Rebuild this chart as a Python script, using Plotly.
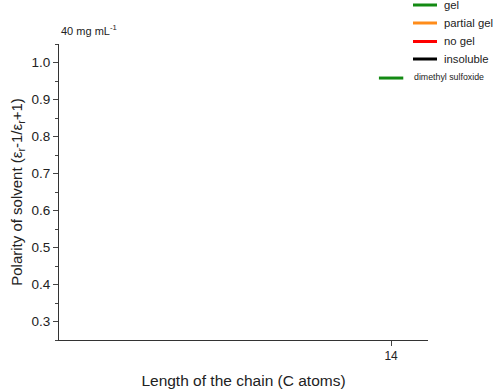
import plotly.graph_objects as go

legend_names = ["gel", "partial gel", "no gel", "insoluble"]
legend_colors = ["#138a13", "#ff8c1a", "#ff0000", "#000000"]

solvents = ["dimethyl sulfoxide"]
chain_length = [14]
polarity = [0.958]
solvent_state = ["gel"]
half_width = 0.33

FONT = "Arial, Liberation Sans, sans-serif"

# plot area in pixels (for legend placement)
L, R, T, B = 59, 428, 44, 340
def px_x(p):
    return (p - L) / (R - L)
def px_y(p):
    return (B - p) / (B - T)

fig = go.Figure()

color_map = dict(zip(legend_names, legend_colors))
for s, x, y, st in zip(solvents, chain_length, polarity, solvent_state):
    fig.add_trace(go.Scatter(x=[x - half_width, x + half_width], y=[y, y], mode="lines",
                             line=dict(color=color_map[st], width=3), showlegend=False,
                             hoverinfo="skip"))
    fig.add_annotation(x=x + half_width, y=y, text=s, showarrow=False, xanchor="left",
                       xshift=9, yshift=1, font=dict(size=8.8, color="#222", family=FONT))

# manual legend
legend_y = [5, 23, 41.5, 59]
for n, c, yy in zip(legend_names, legend_colors, legend_y):
    fig.add_shape(type="line", xref="paper", yref="paper",
                  x0=px_x(413), x1=px_x(437), y0=px_y(yy), y1=px_y(yy),
                  line=dict(color=c, width=3))
    fig.add_annotation(x=px_x(442), y=px_y(yy), xref="paper", yref="paper", text=n,
                       showarrow=False, xanchor="left", yanchor="middle",
                       font=dict(size=11.3, color="#222", family=FONT))

fig.add_annotation(x=0, y=px_y(39), xref="paper", yref="paper", text="40 mg mL<sup>-1</sup>",
                   showarrow=False, xanchor="left", yanchor="bottom",
                   font=dict(size=11, color="#222", family=FONT))

fig.update_layout(
    width=496, height=389,
    margin=dict(l=L, r=496 - R, t=T, b=389 - B, autoexpand=False),
    plot_bgcolor="white", paper_bgcolor="white",
    font=dict(family=FONT, color="#222"),
    showlegend=False,
    xaxis=dict(range=[5, 15], tickvals=[14], ticks="outside", ticklen=5,
               showline=True, linecolor="#333", linewidth=1, showgrid=False,
               zeroline=False, tickfont=dict(size=12),
               title=dict(text="Length of the chain (C atoms)", font=dict(size=15.5), standoff=14)),
    yaxis=dict(range=[0.25, 1.05], tickvals=[0.3, 0.4, 0.5, 0.6, 0.7, 0.8, 0.9, 1.0],
               ticktext=["0.3", "0.4", "0.5", "0.6", "0.7", "0.8", "0.9", "1.0"],
               ticks="outside", ticklen=5, showline=True, linecolor="#333", linewidth=1,
               showgrid=False, zeroline=False, tickfont=dict(size=13.5),
               minor=dict(dtick=0.05, ticks="outside", ticklen=3, tick0=0.25),
               title=dict(text="Polarity of solvent (ε<sub>r</sub>-1/ε<sub>r</sub>+1)",
                          font=dict(size=15), standoff=5)),
)

fig.write_html("out.html", config={"displayModeBar": False},
               post_script="document.body.style.margin='0';document.body.style.overflow='hidden';")
